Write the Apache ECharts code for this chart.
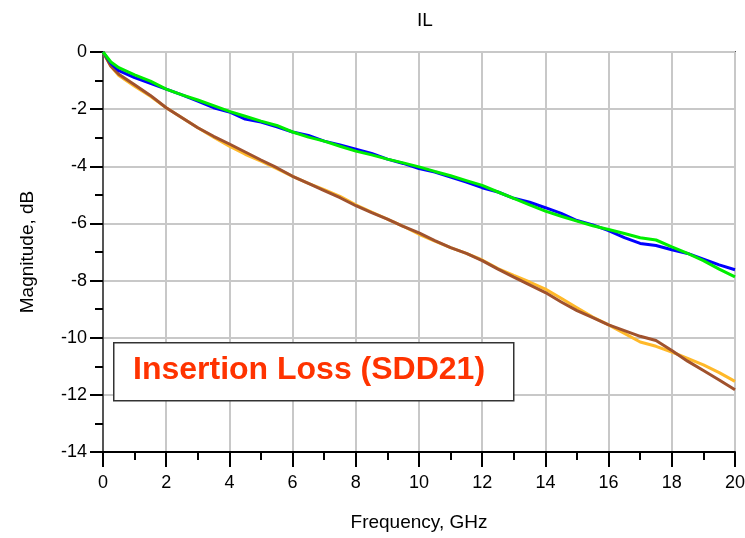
<!DOCTYPE html>
<html>
<head>
<meta charset="utf-8">
<script src="https://cdn.jsdelivr.net/npm/echarts@6/dist/echarts.min.js"></script>
<style>html,body{margin:0;padding:0;background:#fff;}#c{width:745px;height:538px;}</style>
</head>
<body>
<div id="c"></div>
<script>
const freq = [0,0.25,0.5,1,1.5,2,2.5,3,3.5,4,4.5,5,5.5,6,6.5,7,7.5,8,8.5,9,9.5,10,10.5,11,11.5,12,12.5,13,13.5,14,14.5,15,15.5,16,16.5,17,17.5,18,18.5,19,19.5,20];
const blue = [0,-0.4,-0.65,-0.9,-1.1,-1.3,-1.5,-1.72,-1.95,-2.1,-2.35,-2.45,-2.62,-2.8,-2.92,-3.12,-3.25,-3.4,-3.55,-3.75,-3.9,-4.08,-4.2,-4.38,-4.55,-4.75,-4.9,-5.12,-5.26,-5.45,-5.65,-5.9,-6.05,-6.25,-6.5,-6.7,-6.77,-6.92,-7.05,-7.25,-7.45,-7.62];
const green = [0,-0.35,-0.55,-0.8,-1.02,-1.3,-1.5,-1.68,-1.88,-2.08,-2.25,-2.42,-2.57,-2.8,-2.98,-3.12,-3.3,-3.47,-3.6,-3.75,-3.88,-4.02,-4.18,-4.33,-4.5,-4.67,-4.9,-5.12,-5.35,-5.57,-5.75,-5.92,-6.08,-6.21,-6.35,-6.5,-6.58,-6.82,-7.05,-7.3,-7.6,-7.87];
const orange = [0,-0.5,-0.82,-1.2,-1.55,-1.95,-2.3,-2.65,-2.98,-3.3,-3.58,-3.82,-4.08,-4.35,-4.6,-4.82,-5.05,-5.35,-5.6,-5.85,-6.1,-6.38,-6.62,-6.85,-7.05,-7.28,-7.58,-7.82,-8.05,-8.3,-8.62,-8.95,-9.28,-9.55,-9.85,-10.15,-10.3,-10.5,-10.72,-10.95,-11.22,-11.53];
const brown = [0,-0.5,-0.78,-1.15,-1.52,-1.95,-2.3,-2.65,-2.95,-3.22,-3.5,-3.78,-4.05,-4.35,-4.6,-4.85,-5.1,-5.38,-5.62,-5.85,-6.1,-6.33,-6.6,-6.85,-7.05,-7.3,-7.6,-7.88,-8.15,-8.42,-8.75,-9.05,-9.3,-9.55,-9.75,-9.95,-10.1,-10.45,-10.82,-11.15,-11.48,-11.82];
const titleText = 'IL';
const xName = 'Frequency, GHz';
const yName = 'Magnitude, dB';
const noteText = 'Insertion Loss (SDD21)';

const pair = arr => freq.map((f, i) => [f, arr[i]]);
const font = '"Liberation Sans", Arial, sans-serif';
const mk = (data, color) => ({type:'line', data: pair(data), showSymbol:false, symbol:'none', smooth:false,
  lineStyle:{color, width:3}, itemStyle:{color}, animation:false, z:3});

const chart = echarts.init(document.getElementById('c'));
chart.setOption({
  animation:false,
  title:{text:titleText, left:420, top:6, textAlign:'center', textStyle:{fontFamily:font, fontSize:19, fontWeight:'normal', color:'#000'}},
  grid:{left:103, right:10, top:52, bottom:86, show:true, borderColor:'#555', borderWidth:2, backgroundColor:'#fff', outerBoundsMode:'none', containLabel:false},
  xAxis:{type:'value', min:0, max:20, interval:2,
    name:xName, nameLocation:'middle', nameGap:61, nameTextStyle:{fontFamily:font, fontSize:19, color:'#000'},
    axisLine:{show:true, onZero:false, lineStyle:{color:'#000', width:2}},
    axisTick:{show:true, length:15, lineStyle:{color:'#000', width:2}},
    minorTick:{show:true, splitNumber:2, length:8, lineStyle:{color:'#000', width:2}},
    axisLabel:{fontFamily:font, fontSize:18, color:'#000', margin:22, hideOverlap:false},
    splitLine:{show:true, lineStyle:{color:'#c8c8c8', width:2}}},
  yAxis:{type:'value', min:-14, max:0, interval:2,
    name:yName, nameLocation:'middle', nameGap:66, nameRotate:90, nameTextStyle:{fontFamily:font, fontSize:19, color:'#000'},
    axisLine:{show:true, onZero:false, lineStyle:{color:'#555', width:2}},
    axisTick:{show:true, length:13, lineStyle:{color:'#000', width:2}},
    minorTick:{show:true, splitNumber:2, length:8, lineStyle:{color:'#000', width:2}},
    axisLabel:{fontFamily:font, fontSize:18, color:'#000', margin:16},
    splitLine:{show:true, lineStyle:{color:'#c8c8c8', width:2}}},
  series:[mk(orange,'#ffb92a'), mk(brown,'#a0522d'), mk(blue,'#0000ff'), mk(green,'#00ee00')],
  graphic:[
    {type:'rect', left:113, top:342, shape:{width:400, height:58}, style:{fill:'#fff', stroke:'#333', lineWidth:1.5}, z:10},
    {type:'text', left:133, top:354, style:{text:noteText, fill:'#ff3300', font:'bold 32px "Liberation Sans", Arial, sans-serif'}, z:11}
  ]
});
</script>
</body>
</html>
